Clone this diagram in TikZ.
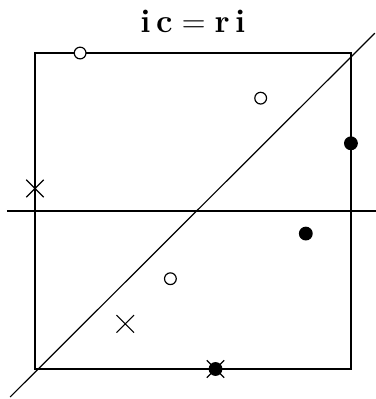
\documentclass[tikz,border=0pt]{standalone}
\usepackage{tikz}
\usetikzlibrary{shapes.misc, positioning}
\usepackage{amsmath}
\tikzset{
    plotLine/.style={
        draw=black, line width=0.75pt
    },
    openMark/.style={
        circle, draw=black, fill=white, line width=0.75pt, minimum size=0.26cm, inner sep=0pt
    },
    filledMark/.style={
        circle, draw=black, fill=black, line width=0.75pt, minimum size=0.28cm, inner sep=0pt
    },
    crossMark/.style={
        cross out, draw=black, line width=0.75pt, minimum size=0.36cm, inner sep=0pt
    }
}

\begin{document}
\begin{tikzpicture}
    \useasboundingbox (-0.775, -0.665) rectangle (7.554, 8.175);

    % ── TITLE
    \node[font=\huge\bfseries] (title) at (3.5, 7.69) {i\,c${}={}$r\,i};

    % ── FRAME AND AXES
    \coordinate (frameSW) at (0, 0);
    \coordinate (frameNE) at (7, 7);
    \draw[plotLine] (frameSW) rectangle (frameNE);
    \coordinate (hLeft) at (-0.62, 3.5);
    \coordinate (hRight) at (7.56, 3.5);
    \draw[plotLine] (hLeft) -- (hRight);
    \coordinate (diagLow) at (-0.55, -0.62);
    \coordinate (diagHigh) at (7.53, 7.44);
    \draw[plotLine] (diagLow) -- (diagHigh);

    % ── OPEN POINTS
    \node[openMark] (o1) at (1, 7) {};
    \node[openMark] (o2) at (5, 6) {};
    \node[openMark] (o3) at (3, 2) {};

    % ── FILLED POINTS
    \node[filledMark] (f1) at (7, 5) {};
    \node[filledMark] (f2) at (6, 3) {};
    \node[filledMark] (f3) at (4, 0) {};

    % ── CROSSES
    \node[crossMark] (x1) at (0, 4) {};
    \node[crossMark] (x2) at (2, 1) {};
    \node[crossMark] (x3) at (4, 0) {};
\end{tikzpicture}
\end{document}
